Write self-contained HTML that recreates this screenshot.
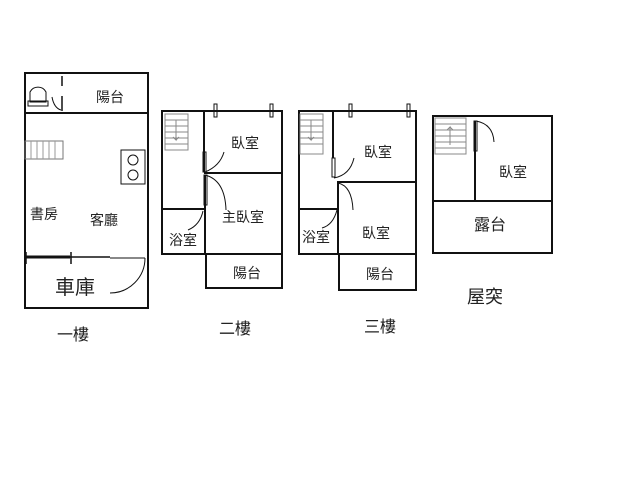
<!DOCTYPE html>
<html><head><meta charset="utf-8"><style>body{margin:0;background:#fff}svg{display:block}text{font-family:"Liberation Sans","Noto Sans CJK TC",sans-serif;fill:#222;text-anchor:middle}</style></head><body>
<svg width="640" height="480" viewBox="0 0 640 480" xmlns="http://www.w3.org/2000/svg">
<g stroke="#111" stroke-width="2" fill="none">
<!-- Floor 1 -->
<rect x="25" y="73" width="123" height="235"/>
<line x1="25" y1="113" x2="148" y2="113"/>
<line x1="62" y1="76" x2="62" y2="86" stroke-width="1.5"/>
<line x1="62" y1="96" x2="62" y2="111" stroke-width="1.5"/>
<path d="M52 97 Q54 108 61 110" stroke-width="1"/>
<path d="M30 102 L30 92 A9 9 0 0 1 46 92 L46 102 Z" stroke-width="1"/>
<rect x="28" y="101" width="20" height="5" stroke-width="1"/>
<rect x="25" y="141" width="38" height="18" stroke-width="1" stroke="#777"/>
<path d="M31 141v18M37 141v18M43 141v18M49 141v18M55 141v18" stroke-width="1" stroke="#999"/>
<rect x="121" y="150" width="24" height="34" stroke-width="1"/>
<circle cx="133" cy="160" r="5" stroke-width="1"/><circle cx="133" cy="175" r="5" stroke-width="1"/>
<line x1="25" y1="257" x2="70" y2="257" stroke-width="3"/>
<line x1="70" y1="257" x2="110" y2="257" stroke-width="1.5"/>
<line x1="26" y1="252" x2="26" y2="264" stroke-width="1.5"/>
<line x1="71" y1="252" x2="71" y2="264" stroke-width="1.5"/>
<line x1="110" y1="258" x2="145" y2="258" stroke-width="1"/>
<path d="M145 258 A35 35 0 0 1 110 293" stroke-width="1"/>
<!-- Floor 2 -->
<path d="M162 111 H282 V254 H162 Z"/>
<rect x="206" y="254" width="76" height="34"/>
<line x1="204" y1="111" x2="204" y2="172"/>
<line x1="204" y1="173" x2="282" y2="173"/>
<line x1="205" y1="175" x2="205" y2="254"/>
<line x1="162" y1="209" x2="205" y2="209"/>
<rect x="203" y="152" width="3" height="20" stroke-width="1"/>
<rect x="204" y="175" width="3" height="30" stroke-width="1"/>
<path d="M205 172 Q220 166 224 152" stroke-width="1"/>
<path d="M205 175 Q225 180 226 210" stroke-width="1"/>
<path d="M203 211 Q200 225 188 230" stroke-width="1"/>
<rect x="165" y="114" width="23" height="36" stroke-width="1" stroke="#888"/>
<path d="M165 120h23M165 126h23M165 132h23M165 138h23M165 144h23M176 120v20l-3 -3m3 3l3 -3" stroke-width="1" stroke="#888"/>
<rect x="214" y="104" width="3" height="13" stroke-width="1"/>
<rect x="270" y="104" width="3" height="13" stroke-width="1"/>
<!-- Floor 3 -->
<path d="M299 111 H416 V254 H299 Z"/>
<rect x="339" y="254" width="77" height="36"/>
<line x1="333" y1="111" x2="333" y2="158"/>
<line x1="337" y1="182" x2="416" y2="182"/>
<line x1="338" y1="182" x2="338" y2="254"/>
<line x1="299" y1="209" x2="338" y2="209"/>
<rect x="332" y="158" width="3" height="19" stroke-width="1"/>
<path d="M334 178 Q350 175 354 158" stroke-width="1"/>
<path d="M338 183 Q352 186 353 210" stroke-width="1"/>
<path d="M337 210 Q333 225 322 228" stroke-width="1"/>
<rect x="300" y="114" width="23" height="40" stroke-width="1" stroke="#888"/>
<path d="M300 120h23M300 126h23M300 132h23M300 138h23M300 144h23M311 120v20l-3 -3m3 3l3 -3" stroke-width="1" stroke="#888"/>
<rect x="349" y="104" width="3" height="13" stroke-width="1"/>
<rect x="407" y="104" width="3" height="13" stroke-width="1"/>
<!-- Roof -->
<rect x="433" y="116" width="119" height="137"/>
<line x1="433" y1="201" x2="552" y2="201"/>
<line x1="475" y1="121" x2="475" y2="201"/>
<rect x="474" y="121" width="3" height="30" stroke-width="1"/>
<path d="M476 121 Q493 124 494 142" stroke-width="1"/>
<rect x="435" y="118" width="31" height="36" stroke-width="1" stroke="#888"/>
<path d="M435 124h31M435 130h31M435 136h31M435 142h31M435 148h31M450 145v-18l-3 3m3 -3l3 3" stroke-width="1" stroke="#888"/>
</g>
<g font-size="14">
<text x="110" y="102">陽台</text>
<text x="44" y="219">書房</text>
<text x="104" y="225">客廳</text>
<text x="75" y="294" font-size="20">車庫</text>
<text x="73" y="340" font-size="16">一樓</text>
<text x="245" y="148">臥室</text>
<text x="243" y="222">主臥室</text>
<text x="183" y="245">浴室</text>
<text x="247" y="278">陽台</text>
<text x="235" y="334" font-size="16">二樓</text>
<text x="378" y="157">臥室</text>
<text x="376" y="238">臥室</text>
<text x="316" y="242">浴室</text>
<text x="380" y="279">陽台</text>
<text x="380" y="332" font-size="16">三樓</text>
<text x="513" y="177">臥室</text>
<text x="490" y="230" font-size="16">露台</text>
<text x="485" y="303" font-size="18">屋突</text>
</g>
</svg>
</body></html>
